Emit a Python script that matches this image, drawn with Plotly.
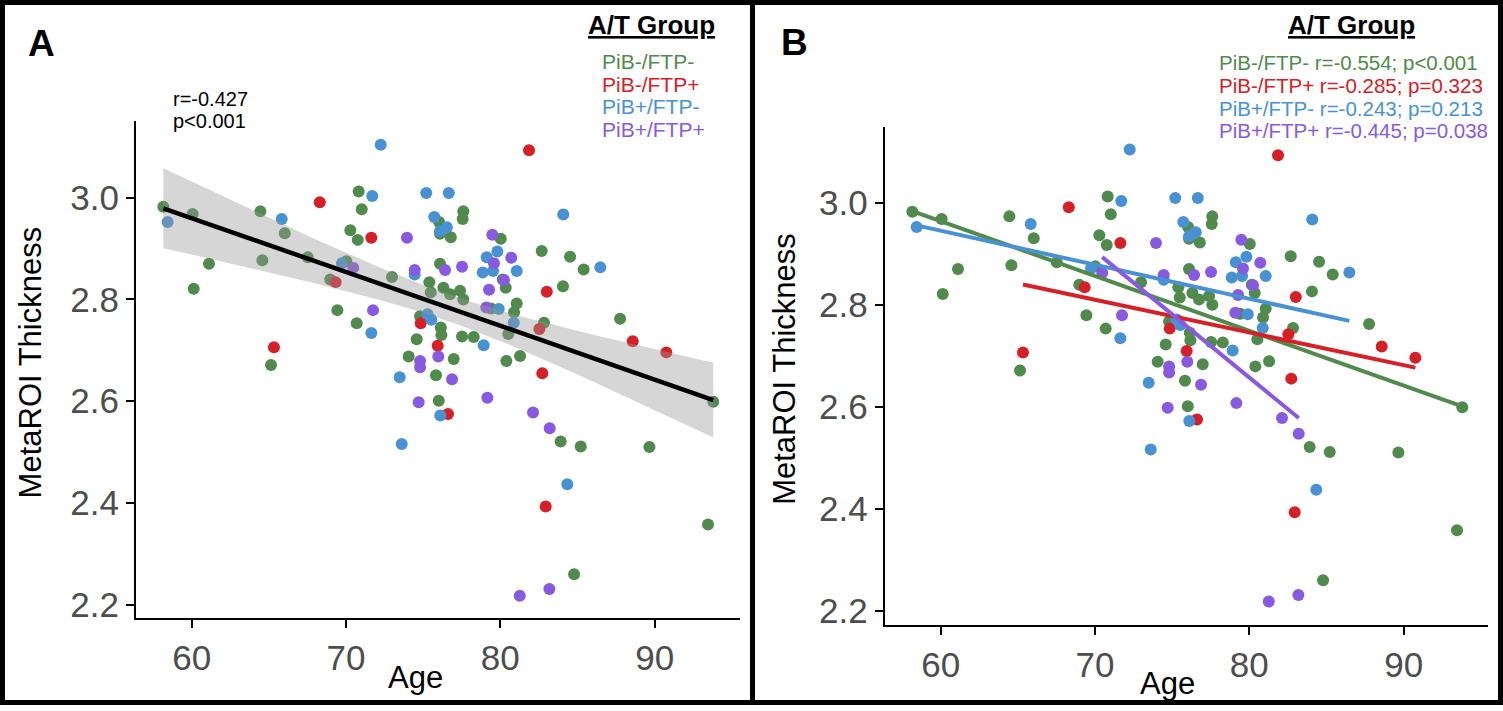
import numpy as np
import plotly.graph_objects as go

# ---------------- data ----------------
groups = ["PiB-/FTP-", "PiB-/FTP+", "PiB+/FTP-", "PiB+/FTP+"]
group_stats = ["r=-0.554; p<0.001", "r=-0.285; p=0.323", "r=-0.243; p=0.213", "r=-0.445; p=0.038"]
overall_stats = ["r=-0.427", "p<0.001"]

green_age = [58.16, 60.06, 61.12, 60.13, 64.45, 66.03, 64.58, 67.52, 70.82, 71.02, 70.28, 70.76, 70.02,
             68.98, 72.98, 75.40, 69.44, 70.69, 65.14, 74.58, 74.06, 74.80, 77.60, 77.56, 76.03, 76.09,
             76.79, 80.03, 82.68, 84.52, 85.40, 76.09, 80.16, 80.35, 75.49, 76.31, 76.74, 77.39, 77.60,
             81.06, 80.89, 79.40, 80.52, 82.83, 84.06, 76.14, 76.18, 77.52, 78.28, 76.98, 80.39, 81.28,
             93.80, 75.83, 76.01, 83.91, 85.21, 89.66, 93.46, 84.78, 87.76]
green_thk = [2.982, 2.968, 2.870, 2.821, 2.973, 2.930, 2.877, 2.883, 3.012, 2.977, 2.936, 2.917, 2.875,
             2.839, 2.844, 2.834, 2.779, 2.753, 2.671, 2.722, 2.688, 2.767, 2.973, 2.958, 2.952, 2.929,
             2.922, 2.919, 2.895, 2.884, 2.859, 2.870, 2.839, 2.823, 2.814, 2.823, 2.810, 2.817, 2.800,
             2.792, 2.775, 2.782, 2.732, 2.754, 2.826, 2.745, 2.730, 2.727, 2.726, 2.683, 2.679, 2.689,
             2.599, 2.651, 2.601, 2.521, 2.511, 2.510, 2.358, 2.260, 2.762]

red_age = [68.30, 71.64, 69.33, 65.33, 74.84, 81.86, 82.53, 83.01, 75.94, 82.72, 88.58, 90.76, 76.61, 82.94]
red_thk = [2.991, 2.921, 2.834, 2.706, 2.753, 3.093, 2.742, 2.815, 2.709, 2.655, 2.718, 2.696, 2.575, 2.393]

blue_age = [58.44, 65.83, 71.70, 72.25, 75.20, 69.74, 74.45, 71.64, 75.29, 75.53, 76.66, 75.72, 76.53,
            76.09, 84.08, 79.12, 79.81, 78.86, 79.53, 81.06, 79.90, 80.87, 78.92, 86.48, 73.48, 76.11,
            73.61, 84.34]
blue_thk = [2.952, 2.958, 3.003, 3.104, 3.009, 2.871, 2.849, 2.734, 2.771, 2.760, 3.009, 2.962, 2.942,
            2.934, 2.967, 2.883, 2.894, 2.853, 2.856, 2.856, 2.781, 2.754, 2.710, 2.863, 2.647, 2.572,
            2.516, 2.437]

purple_age = [73.95, 70.47, 74.45, 71.75, 74.80, 74.80, 79.48, 80.71, 79.59, 80.24, 79.27, 77.52, 76.42,
              79.09, 75.98, 76.87, 74.71, 79.16, 82.12, 83.20, 83.18, 81.26]
purple_thk = [2.921, 2.862, 2.858, 2.779, 2.679, 2.667, 2.927, 2.882, 2.871, 2.838, 2.819, 2.864, 2.858,
              2.784, 2.688, 2.643, 2.598, 2.607, 2.578, 2.547, 2.231, 2.218]

x_ticks = [60, 70, 80, 90]
y_ticks = [2.2, 2.4, 2.6, 2.8, 3.0]
y_ticklabels = ["2.2", "2.4", "2.6", "2.8", "3.0"]

# ---------------- style ----------------
colors = ["#508A4C", "#D52027", "#4892D3", "#885AE0"]
FONT = "Liberation Sans, Arial, Helvetica, sans-serif"
W, H = 1503, 711
T_CRIT = 1.979  # 95% two-sided t quantile, df ~ 123

ages = [green_age, red_age, blue_age, purple_age]
thks = [green_thk, red_thk, blue_thk, purple_thk]

fig = go.Figure()

# Panel A points
for g, a, t, c in zip(groups, ages, thks, colors):
    fig.add_trace(go.Scatter(x=a, y=t, mode="markers", xaxis="x", yaxis="y",
                             marker=dict(size=12, color=c, line=dict(width=0)),
                             showlegend=False, hoverinfo="skip"))

# Overall fit with confidence band (panel A)
all_x = np.concatenate([np.array(a) for a in ages])
all_y = np.concatenate([np.array(t) for t in thks])
slope, intercept = np.polyfit(all_x, all_y, 1)
n = len(all_x)
resid = all_y - (slope * all_x + intercept)
s = np.sqrt(np.sum(resid ** 2) / (n - 2))
xm = all_x.mean()
sxx = np.sum((all_x - xm) ** 2)
xs = np.linspace(all_x.min(), all_x.max(), 80)
ys = slope * xs + intercept
se = s * np.sqrt(1.0 / n + (xs - xm) ** 2 / sxx)
upper = ys + T_CRIT * se
lower = ys - T_CRIT * se
fig.add_trace(go.Scatter(x=np.concatenate([xs, xs[::-1]]), y=np.concatenate([upper, lower[::-1]]),
                         mode="lines", fill="toself", fillcolor="rgba(153,153,153,0.4)",
                         line=dict(width=0), xaxis="x", yaxis="y", showlegend=False, hoverinfo="skip"))
fig.add_trace(go.Scatter(x=xs, y=ys, mode="lines", line=dict(color="black", width=4.5),
                         xaxis="x", yaxis="y", showlegend=False, hoverinfo="skip"))

# Panel B points
for g, a, t, c in zip(groups, ages, thks, colors):
    fig.add_trace(go.Scatter(x=a, y=t, mode="markers", xaxis="x2", yaxis="y2",
                             marker=dict(size=12, color=c, line=dict(width=0)),
                             showlegend=False, hoverinfo="skip"))
# Panel B group fits
for g, a, t, c in zip(groups, ages, thks, colors):
    ax = np.array(a); ty = np.array(t)
    m, b = np.polyfit(ax, ty, 1)
    xx = np.array([ax.min(), ax.max()])
    fig.add_trace(go.Scatter(x=xx, y=m * xx + b, mode="lines", line=dict(color=c, width=4),
                             xaxis="x2", yaxis="y2", showlegend=False, hoverinfo="skip"))

def px_x(p):
    return p / W

def px_y(p):
    return 1 - p / H

axis_common = dict(showline=True, linecolor="black", linewidth=2, ticks="outside", ticklen=8,
                   tickwidth=2, tickcolor="black", showgrid=False, zeroline=False,
                   tickfont=dict(family=FONT, size=35, color="#4D4D4D"))

fig.update_layout(
    width=W, height=H, autosize=False,
    margin=dict(l=0, r=0, t=0, b=0),
    paper_bgcolor="white", plot_bgcolor="white",
    xaxis=dict(domain=[px_x(136), px_x(739.5)], range=[56.39, 95.50], tickvals=x_ticks,
               anchor="y", **axis_common),
    yaxis=dict(domain=[px_y(623.3), px_y(122)], range=[2.1741, 3.1506], tickvals=y_ticks,
               ticktext=y_ticklabels, anchor="x", **axis_common),
    xaxis2=dict(domain=[px_x(884.7), px_x(1488.2)], range=[56.37, 95.48], tickvals=x_ticks,
                anchor="y2", **axis_common),
    yaxis2=dict(domain=[px_y(630.7), px_y(127.7)], range=[2.1714, 3.1489], tickvals=y_ticks,
                ticktext=y_ticklabels, anchor="x2", **axis_common),
)

ann = []
def add_text(text, x, y, size, color="black", xanchor="center", yanchor="middle", angle=0):
    ann.append(dict(text=text, x=px_x(x), y=px_y(y), xref="paper", yref="paper", showarrow=False,
                    xanchor=xanchor, yanchor=yanchor, textangle=angle,
                    font=dict(family=FONT, size=size, color=color)))

# panel letters
add_text("<b>A</b>", 41.5, 43.5, 37)
add_text("<b>B</b>", 794, 42.5, 37)
# axis titles
add_text("Age", 415, 683, 31)
add_text("Age", 1167, 689, 31)
add_text("MetaROI Thickness", 30.5, 366, 31, angle=-90)
add_text("MetaROI Thickness", 785, 372, 31, angle=-90)
# overall stats
add_text(overall_stats[0], 171, 99.5, 20, xanchor="left")
add_text(overall_stats[1], 171, 122.5, 20, xanchor="left")
# legends
add_text("<b><u>A/T Group</u></b>", 651, 25, 26)
add_text("<b><u>A/T Group</u></b>", 1351, 25, 26)
ya = [62, 85, 107, 131]
yb = [63, 86, 109, 132]
for i, (g, st, c) in enumerate(zip(groups, group_stats, colors)):
    add_text(g, 600, ya[i], 21, color=c, xanchor="left")
    add_text(g + " " + st, 1217, yb[i], 20.5, color=c, xanchor="left")

fig.update_layout(annotations=ann)

# frame and divider
fig.update_layout(shapes=[
    dict(type="rect", xref="paper", yref="paper", x0=px_x(2.5), x1=px_x(W - 2.5), y0=px_y(H - 2.5),
         y1=px_y(2.5), line=dict(color="black", width=5), fillcolor="rgba(0,0,0,0)", layer="above"),
    dict(type="line", xref="paper", yref="paper", x0=px_x(752.5), x1=px_x(752.5), y0=0, y1=1,
         line=dict(color="black", width=5), layer="above"),
])

fig.write_html("out.html", config={"displayModeBar": False},
               post_script="document.body.style.margin='0';document.body.style.overflow='hidden';")
